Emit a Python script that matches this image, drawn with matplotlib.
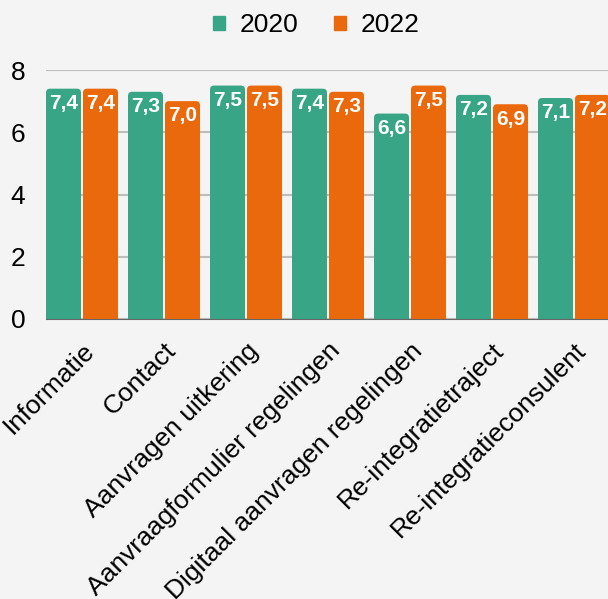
import matplotlib.pyplot as plt
from matplotlib.patches import FancyBboxPatch, Patch
import numpy as np

categories = ["Informatie", "Contact", "Aanvragen uitkering", "Aanvraagformulier regelingen",
              "Digitaal aanvragen regelingen", "Re-integratietraject", "Re-integratieconsulent"]
v2020 = [7.4, 7.3, 7.5, 7.4, 6.6, 7.2, 7.1]
v2022 = [7.4, 7.0, 7.5, 7.3, 7.5, 6.9, 7.2]
yticks = [0, 2, 4, 6, 8]

green = "#38a586"
orange = "#ea690d"
bg = "#f4f4f4"

plt.rcParams['font.family'] = ['Liberation Sans', 'DejaVu Sans']

fig = plt.figure(figsize=(6.08, 5.99), dpi=100, facecolor=bg)
ax = fig.add_axes([46/608, 1 - 319/599, 569/608, 249/599], facecolor=bg)

x = np.arange(len(categories))
w = 35/82
off = 18.5/82
b1 = ax.bar(x - off, v2020, w, color=green, zorder=3)
b2 = ax.bar(x + off, v2022, w, color=orange, zorder=3)

# rounded tops: swap each rectangle for a rounded box (bottom hidden under the axis)
for bars in (b1, b2):
    for r in bars:
        r.set_visible(False)
        p = FancyBboxPatch((r.get_x(), -0.5), r.get_width(), r.get_height() + 0.5,
                           boxstyle="round,pad=0,rounding_size=0.05", mutation_aspect=82/31,
                           facecolor=r.get_facecolor(), edgecolor="none", zorder=3)
        ax.add_patch(p)

for bars, vals in [(b1, v2020), (b2, v2022)]:
    for r, v in zip(bars, vals):
        ax.text(r.get_x() + r.get_width()/2, v - 0.17, f"{v:.1f}".replace(".", ","),
                ha="center", va="top", color="white", fontsize=15, fontweight="bold", zorder=4)

ax.set_xlim(-0.439, 6.5)
ax.set_ylim(0, 8)
ax.set_yticks(yticks)
ax.set_xticks(x)
ax.set_xticklabels(categories, rotation=45, ha="right", rotation_mode="anchor", fontsize=19)
ax.tick_params(axis="y", length=0, labelsize=19, pad=15)
ax.tick_params(axis="x", length=0, pad=14)
ax.grid(axis="y", color="#bdbdbd", linewidth=1.5, zorder=0)
for s in ["top", "right", "left"]:
    ax.spines[s].set_visible(False)
ax.spines["bottom"].set_color("#666666")
ax.spines["bottom"].set_zorder(5)

handles = [Patch(color=green), Patch(color=orange)]
fig.legend(handles=handles, labels=["2020", "2022"], loc="center", bbox_to_anchor=(0.52, 1 - 25/599),
           ncol=2, frameon=False, fontsize=19, handlelength=0.45, handleheight=0.45,
           handletextpad=0.55, columnspacing=1.35)

fig.savefig("out.png", facecolor=bg)
